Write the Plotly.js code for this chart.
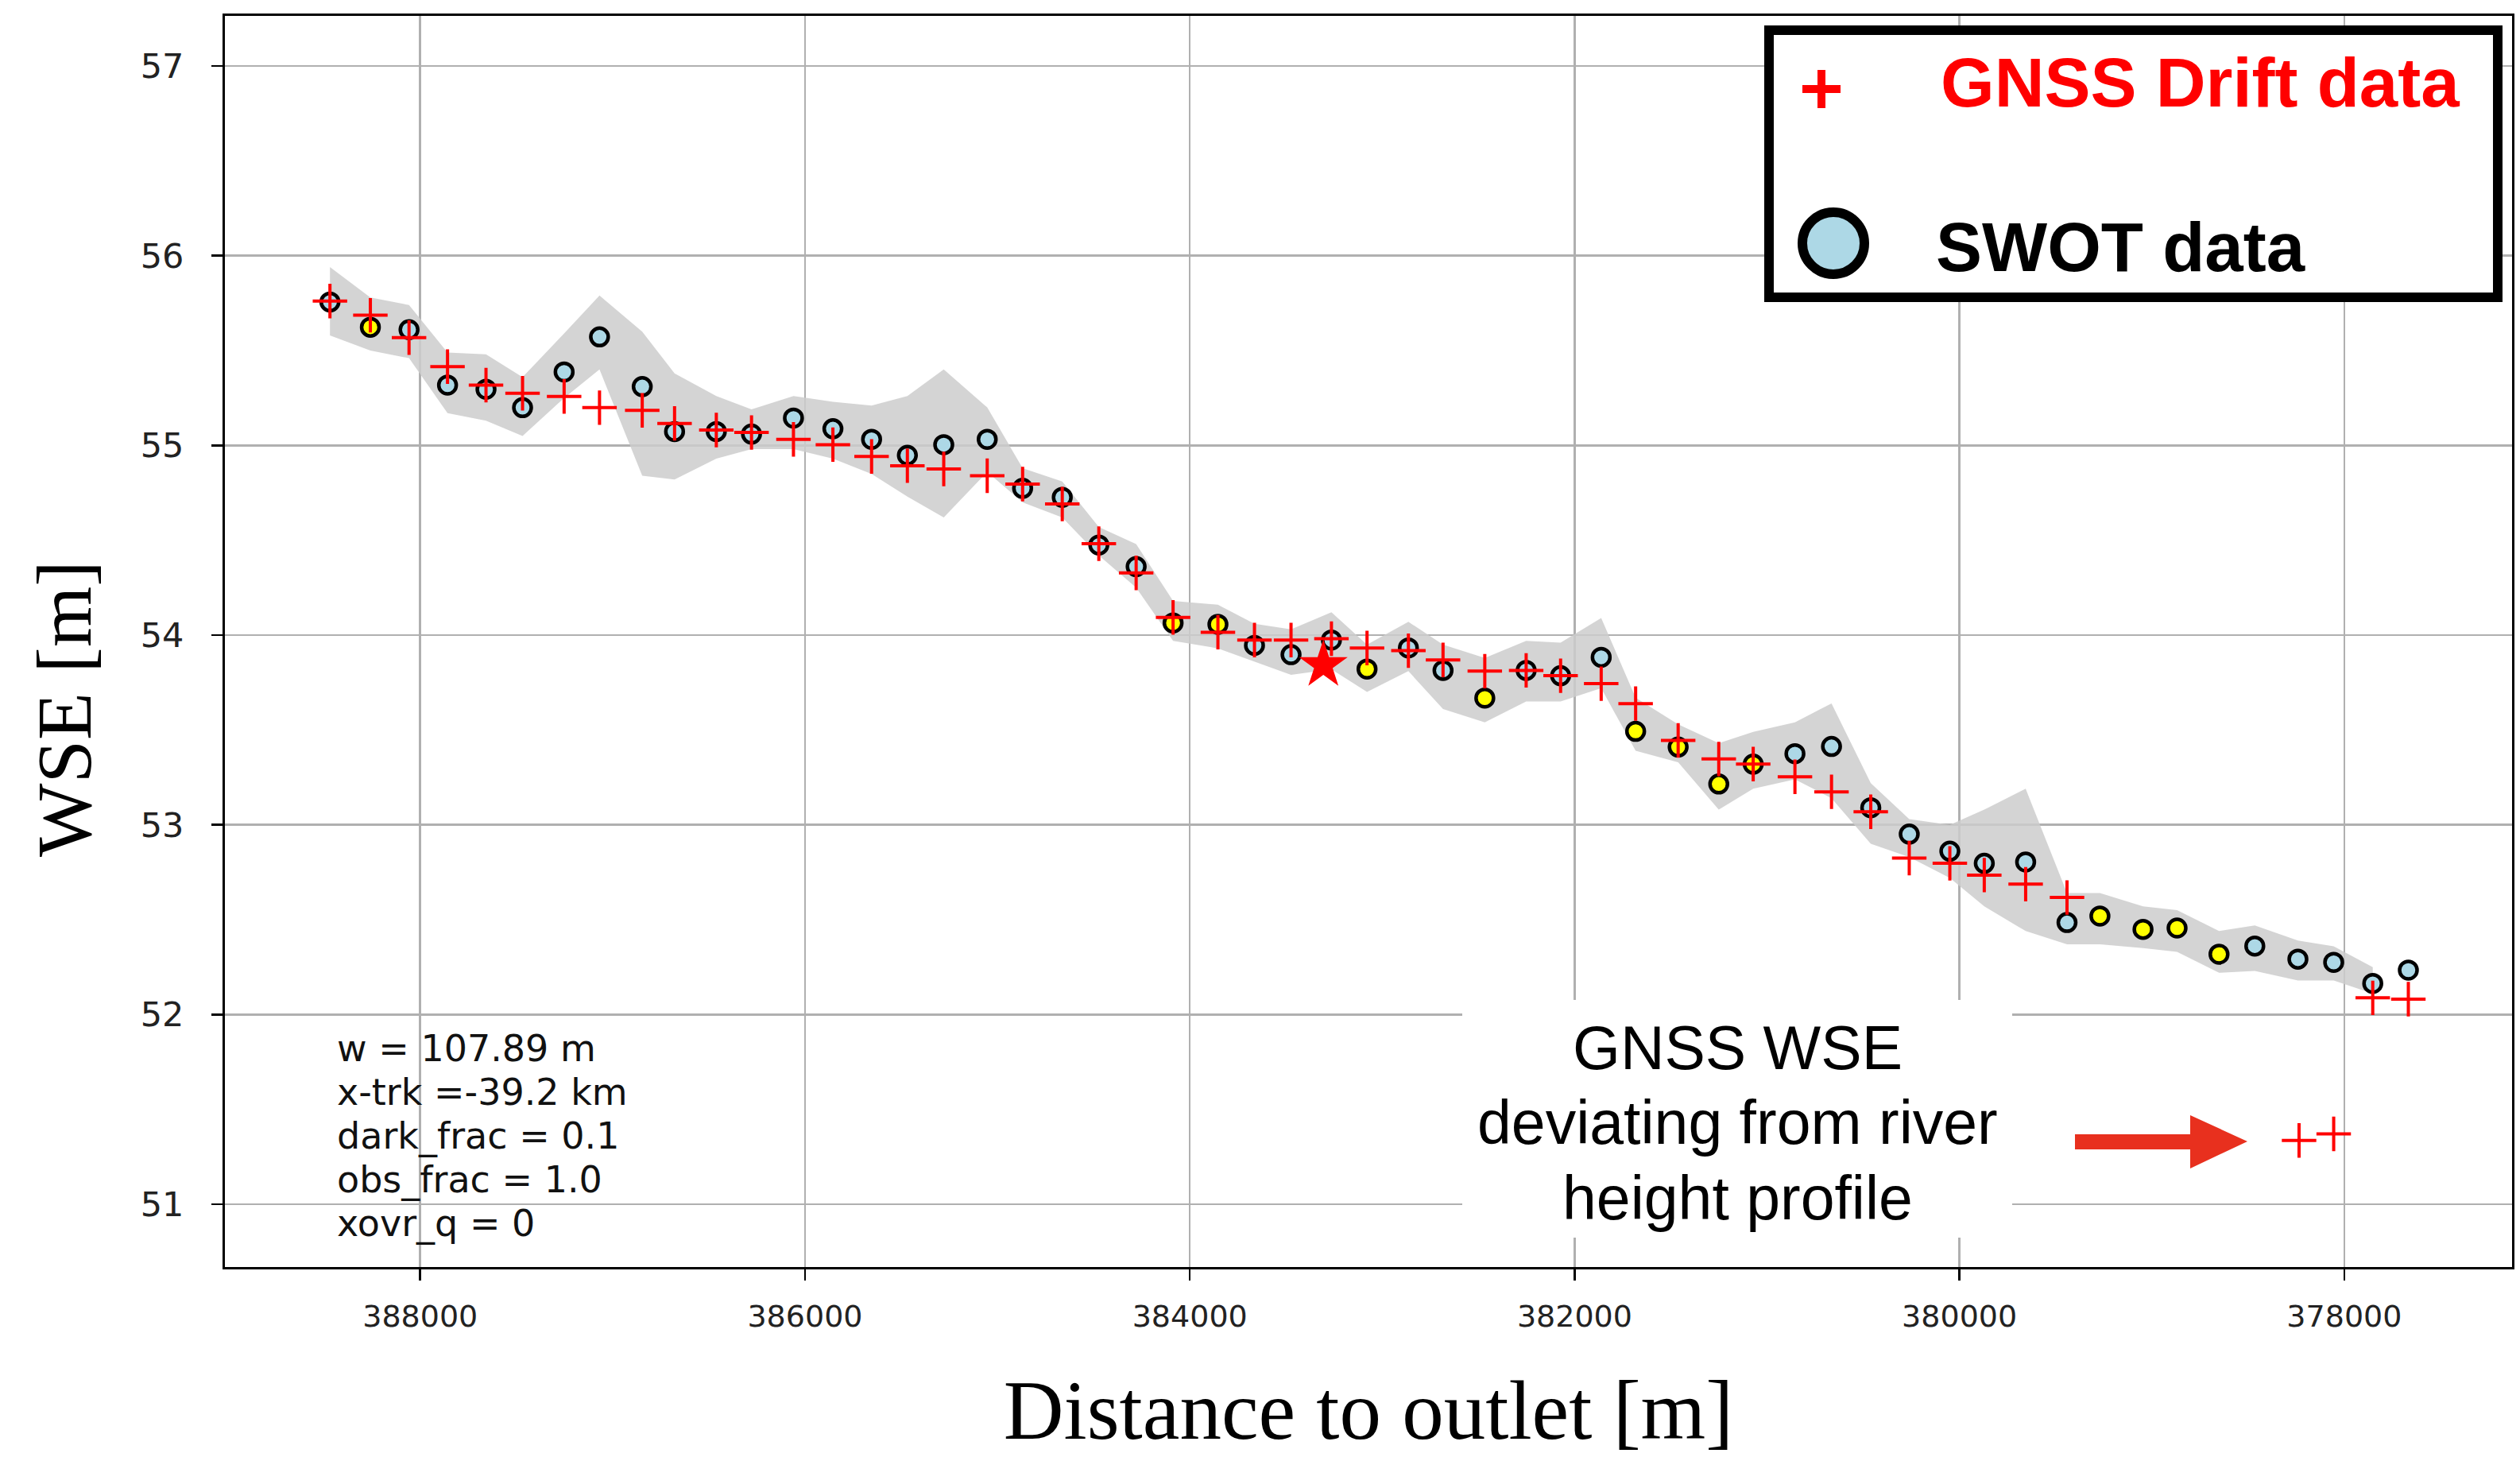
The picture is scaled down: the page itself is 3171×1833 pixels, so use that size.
<!DOCTYPE html>
<html>
<head>
<meta charset="utf-8">
<script src="https://cdn.plot.ly/plotly-3.0.1.min.js"></script>
<style>html,body{margin:0;padding:0;background:#fff;}#chart{width:3171px;height:1833px;}</style>
</head>
<body>
<div id="chart"></div>
<script>
// ---------- DATA ----------
const swotDist = [388469, 388259, 388058, 387858, 387658, 387468, 387252, 387068, 386846, 386678,
  386461, 386278, 386060, 385855, 385654, 385468, 385279, 385053, 384869, 384663,
  384473, 384279, 384087, 383854, 383664, 383474, 383264, 383079, 382864, 382684,
  382467, 382252, 382073, 381862, 381683, 381462, 381251, 381072, 380855, 380665,
  380461, 380261, 380050, 379871, 379656, 379441, 379270, 379046, 378869, 378651,
  378465, 378241, 378055, 377852, 377667];
const swotWse = [55.756, 55.623, 55.610, 55.318, 55.296, 55.199, 55.387, 55.572, 55.310, 55.073,
  55.073, 55.060, 55.144, 55.088, 55.032, 54.948, 55.004, 55.032, 54.774, 54.726,
  54.475, 54.361, 54.064, 54.057, 53.946, 53.897, 53.974, 53.821, 53.932, 53.814,
  53.668, 53.814, 53.786, 53.883, 53.493, 53.410, 53.215, 53.320, 53.375, 53.413,
  53.090, 52.951, 52.861, 52.797, 52.804, 52.485, 52.519, 52.449, 52.456, 52.318,
  52.361, 52.292, 52.275, 52.164, 52.234];
// 1 = flagged node (drawn yellow), 0 = good node (light blue)
const swotFlag = [0, 1, 0, 0, 0, 0, 0, 0, 0, 0,
  0, 0, 0, 0, 0, 0, 0, 0, 0, 0,
  0, 0, 1, 1, 0, 0, 0, 1, 0, 0,
  1, 0, 0, 0, 1, 1, 1, 1, 0, 0,
  0, 0, 0, 0, 0, 0, 1, 1, 1, 1,
  0, 0, 0, 0, 0];
// uncertainty band (upper / lower WSE) at each SWOT node
const bandUpper = [55.94, 55.78, 55.74, 55.49, 55.48, 55.36, 55.59, 55.79, 55.60, 55.38,
  55.26, 55.19, 55.26, 55.23, 55.21, 55.26, 55.40, 55.20, 54.88, 54.81,
  54.57, 54.48, 54.18, 54.16, 54.06, 54.03, 54.12, 53.95, 54.07, 53.95,
  53.88, 53.97, 53.96, 54.09, 53.67, 53.53, 53.43, 53.49, 53.54, 53.64,
  53.22, 53.03, 53.00, 53.08, 53.19, 52.64, 52.64, 52.57, 52.55, 52.44,
  52.47, 52.39, 52.36, 52.25, null];
const bandLower = [55.58, 55.50, 55.46, 55.17, 55.13, 55.05, 55.25, 55.40, 54.84, 54.82,
  54.93, 54.98, 54.98, 54.93, 54.85, 54.73, 54.62, 54.86, 54.70, 54.62,
  54.42, 54.25, 53.97, 53.93, 53.86, 53.79, 53.82, 53.70, 53.81, 53.61,
  53.54, 53.65, 53.65, 53.72, 53.39, 53.33, 53.08, 53.19, 53.24, 53.14,
  52.90, 52.83, 52.72, 52.57, 52.44, 52.37, 52.37, 52.35, 52.33, 52.22,
  52.23, 52.18, 52.18, 52.11, null];

const gnssDist = [388469, 388259, 388058, 387858, 387658, 387468, 387252, 387068, 386846, 386678,
  386461, 386278, 386060, 385855, 385654, 385468, 385279, 385053, 384869, 384663,
  384473, 384279, 384087, 383854, 383664, 383474, 383264, 383079, 382864, 382684,
  382467, 382252, 382073, 381862, 381683, 381462, 381251, 381072, 380855, 380665,
  380461, 380261, 380050, 379871, 379656, 379441, 378235, 378055, 377852, 377667];
const gnssWse = [55.761, 55.686, 55.568, 55.415, 55.318, 55.275, 55.258, 55.199, 55.185, 55.116,
  55.081, 55.068, 55.032, 55.004, 54.942, 54.893, 54.876, 54.840, 54.796, 54.691,
  54.482, 54.328, 54.093, 54.015, 53.974, 53.974, 53.981, 53.932, 53.918, 53.869,
  53.810, 53.814, 53.786, 53.744, 53.639, 53.445, 53.347, 53.320, 53.253, 53.174,
  53.069, 52.825, 52.797, 52.735, 52.687, 52.617, 51.336, 51.371, 52.088, 52.081];

const starDist = [383306];
const starWse = [53.842];

const xTickVals = [388000, 386000, 384000, 382000, 380000, 378000];
const yTickVals = [51, 52, 53, 54, 55, 56, 57];

const legendLabels = ["GNSS Drift data", "SWOT data"];
const infoLines = ["w = 107.89 m", "x-trk =-39.2 km", "dark_frac = 0.1", "obs_frac = 1.0", "xovr_q = 0"];
const noteLines = ["GNSS WSE", "deviating from river", "height profile"];
const xTitle = "Distance to outlet [m]";
const yTitle = "WSE [m]";

// ---------- LAYOUT HELPERS ----------
const W = 3171, H = 1833;
const PL = 283, PR = 3161, PT = 20, PB = 1594;
const px = v => (v - PL) / (PR - PL);
const py = v => (PB - v) / (PB - PT);

// band polygon (skip nodes without band)
const bx = [], bu = [], bl = [];
swotDist.forEach((d, i) => { if (bandUpper[i] !== null) { bx.push(d); bu.push(bandUpper[i]); bl.push(bandLower[i]); } });
const bandTrace = {
  x: bx.concat(bx.slice().reverse()),
  y: bu.concat(bl.slice().reverse()),
  type: 'scatter', mode: 'lines', fill: 'toself',
  fillcolor: 'rgba(205,205,205,0.85)', line: {width: 0, color: 'rgba(0,0,0,0)'},
  hoverinfo: 'skip', showlegend: false
};
const swotTrace = {
  x: swotDist, y: swotWse, type: 'scatter', mode: 'markers', name: legendLabels[1],
  marker: {symbol: 'circle', size: 22, color: swotFlag.map(f => f ? '#ffff00' : '#add8e6'),
           line: {color: '#000', width: 4.5}},
  showlegend: false
};
const gnssTrace = {
  x: gnssDist, y: gnssWse, type: 'scatter', mode: 'markers', name: legendLabels[0],
  marker: {symbol: 'cross-thin', size: 31, color: '#ff0000', line: {color: '#ff0000', width: 4}},
  showlegend: false
};
const starTrace = {
  x: starDist, y: starWse, type: 'scatter', mode: 'markers',
  marker: {symbol: 'star', size: 46, color: '#ff0000', line: {width: 0}},
  showlegend: false
};

const shapes = [
  // note box
  {type: 'rect', xref: 'paper', yref: 'paper', x0: px(1840), x1: px(2532), y0: py(1557), y1: py(1258),
   fillcolor: '#fff', line: {width: 0}, layer: 'above'},
  // arrow
  {type: 'path', xref: 'paper', yref: 'paper', layer: 'above', fillcolor: '#e8301e', line: {width: 0},
   path: `M ${px(2611)} ${py(1427)} L ${px(2756)} ${py(1427)} L ${px(2756)} ${py(1403)} L ${px(2828)} ${py(1436)} L ${px(2756)} ${py(1470)} L ${px(2756)} ${py(1446)} L ${px(2611)} ${py(1446)} Z`},
  // legend frame
  {type: 'rect', xref: 'paper', yref: 'paper', x0: px(2226), x1: px(3143), y0: py(374), y1: py(38),
   fillcolor: '#fff', line: {width: 12, color: '#000'}, layer: 'above'},
  // legend plus
  {type: 'line', xref: 'paper', yref: 'paper', x0: px(2268), x1: px(2316), y0: py(112), y1: py(112),
   line: {width: 10, color: '#ff0000'}, layer: 'above'},
  {type: 'line', xref: 'paper', yref: 'paper', x0: px(2292), x1: px(2292), y0: py(88), y1: py(136),
   line: {width: 10, color: '#ff0000'}, layer: 'above'},
  // legend circle
  {type: 'circle', xref: 'paper', yref: 'paper', x0: px(2268), x1: px(2346), y0: py(345), y1: py(267),
   fillcolor: '#add8e6', line: {width: 12, color: '#000'}, layer: 'above'}
];

const annotations = [
  {xref: 'paper', yref: 'paper', x: px(2440), y: py(103), xanchor: 'left', yanchor: 'middle', showarrow: false,
   text: '<b>' + legendLabels[0] + '</b>', font: {family: 'Liberation Sans, Arial', size: 87, color: '#ff0000'}},
  {xref: 'paper', yref: 'paper', x: px(2434), y: py(310), xanchor: 'left', yanchor: 'middle', showarrow: false,
   text: '<b>' + legendLabels[1] + '</b>', font: {family: 'Liberation Sans, Arial', size: 87, color: '#000'}},
  {xref: 'paper', yref: 'paper', x: px(81), y: py(892), xanchor: 'center', yanchor: 'middle',
   showarrow: false, textangle: -90, text: yTitle, font: {family: 'Liberation Serif', size: 98, color: '#000'}}
];
const infoY = [1319, 1374, 1429, 1484, 1539];
infoLines.forEach((t, i) => annotations.push({
  xref: 'paper', yref: 'paper', x: px(422), y: py(infoY[i]), xanchor: 'left', yanchor: 'middle',
  showarrow: false, text: t, font: {family: 'DejaVu Sans', size: 46, color: '#111'}
}));
const noteY = [1318, 1412, 1507];
noteLines.forEach((t, i) => annotations.push({
  xref: 'paper', yref: 'paper', x: px(2186), y: py(noteY[i]), xanchor: 'center', yanchor: 'middle',
  showarrow: false, text: t, font: {family: 'Liberation Sans, Arial', size: 77, color: '#000'}
}));

const layout = {
  width: W, height: H,
  margin: {l: PL, r: W - PR, t: PT, b: H - PB, pad: 0},
  paper_bgcolor: '#fff', plot_bgcolor: '#fff',
  showlegend: false,
  xaxis: {
    range: [389015, 377128], tickvals: xTickVals, tickformat: 'd',
    showgrid: true, gridcolor: '#b0b0b0', gridwidth: 2.5, zeroline: false,
    showline: true, mirror: true, linecolor: '#000', linewidth: 3,
    ticks: 'outside', ticklen: 14, tickwidth: 2.5, tickcolor: '#000',
    tickfont: {family: 'DejaVu Sans', size: 38, color: '#222'}, ticklabelstandoff: 12,
    title: {text: xTitle, font: {family: 'Liberation Serif', size: 105, color: '#000'}, standoff: 60}
  },
  yaxis: {
    range: [50.669, 57.264], tickvals: yTickVals,
    showgrid: true, gridcolor: '#b0b0b0', gridwidth: 2.5, zeroline: false,
    showline: true, mirror: true, linecolor: '#000', linewidth: 3,
    ticks: 'outside', ticklen: 14, tickwidth: 2.5, tickcolor: '#000',
    tickfont: {family: 'DejaVu Sans', size: 43, color: '#222'}, ticklabelstandoff: 26
  },
  shapes: shapes,
  annotations: annotations
};

Plotly.newPlot('chart', [bandTrace, swotTrace, gnssTrace, starTrace], layout, {staticPlot: true, displayModeBar: false});
</script>
</body>
</html>
